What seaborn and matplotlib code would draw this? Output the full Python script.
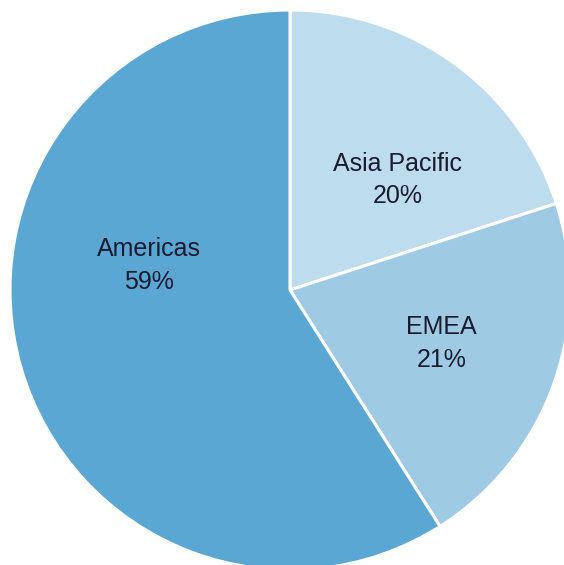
import matplotlib
matplotlib.use("Agg")
import matplotlib.pyplot as plt
import numpy as np
import seaborn as sns

# Revenue share by region
regions = ["Asia Pacific", "EMEA", "Americas"]
shares = [20, 21, 59]
colors = ["#BDDCEE", "#9ECAE4", "#5BA7D3"]

# Label anchor (angle in degrees, distance as fraction of radius) per region
label_angle = [45.5, -19.5, 170.2]
label_dist = [0.55, 0.575, 0.51]

sns.set_theme(style="white")
plt.rcParams["font.family"] = ["Liberation Sans", "DejaVu Sans"]

W, H = 564, 565
fig = plt.figure(figsize=(W / 100, H / 100), dpi=100)
cx, cy, r = 290, 290, 280
ax = fig.add_axes([(cx - r) / W, (H - cy - r) / H, 2 * r / W, 2 * r / H])

ax.pie(shares, colors=colors, startangle=90, counterclock=False,
       wedgeprops=dict(edgecolor="white", linewidth=2.2))
ax.set_xlim(-1, 1)
ax.set_ylim(-1, 1)
ax.set_aspect("equal")
ax.axis("off")

for name, pct, a, d in zip(regions, shares, label_angle, label_dist):
    t = np.deg2rad(a)
    ax.text(d * np.cos(t), d * np.sin(t), f"{name}\n{pct}%",
            ha="center", va="center", fontsize=18, color="#1B1B2F",
            linespacing=1.45)

fig.savefig("out.png", dpi=100)
